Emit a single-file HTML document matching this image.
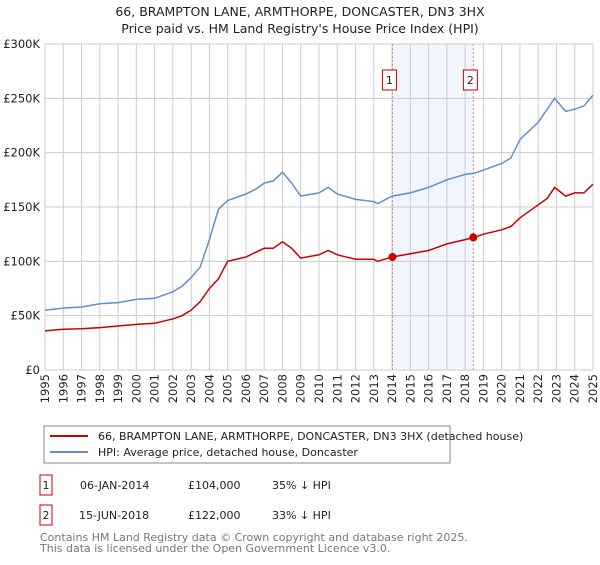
<!DOCTYPE html>
<html><head><meta charset="utf-8"><style>
body{margin:0;background:#fff;font-family:"Liberation Sans","DejaVu Sans",sans-serif;}
svg text{font-family:"DejaVu Sans","Liberation Sans",sans-serif;}
</style></head><body>
<svg width="600" height="560" xmlns="http://www.w3.org/2000/svg" id="chart">
<text x="300" y="16" text-anchor="middle" font-size="12.5" fill="#222">66, BRAMPTON LANE, ARMTHORPE, DONCASTER, DN3 3HX</text>
<text x="300" y="33" text-anchor="middle" font-size="12.5" fill="#222">Price paid vs. HM Land Registry's House Price Index (HPI)</text>
<g id="grid"></g><g id="marks"></g><g id="axes"></g>
<g>
<rect x="44" y="426" width="406" height="37" fill="#fff" stroke="#888"/>
<line x1="50" y1="436" x2="88" y2="436" stroke="#cc0000" stroke-width="2"/>
<text x="98" y="440" font-size="11" fill="#222">66, BRAMPTON LANE, ARMTHORPE, DONCASTER, DN3 3HX (detached house)</text>
<line x1="50" y1="452" x2="88" y2="452" stroke="#6090d0" stroke-width="2"/>
<text x="98" y="456" font-size="11" fill="#222">HPI: Average price, detached house, Doncaster</text>
</g>
<g font-size="11" fill="#222">
<rect x="40" y="475" width="12" height="20" fill="#fff" stroke="#cc0000"/>
<text x="46" y="489" text-anchor="middle">1</text>
<text x="80" y="489">06-JAN-2014</text>
<text x="188" y="489">£104,000</text>
<text x="272" y="489">35% ↓ HPI</text>
<rect x="40" y="505" width="12" height="20" fill="#fff" stroke="#cc0000"/>
<text x="46" y="519" text-anchor="middle">2</text>
<text x="79" y="519">15-JUN-2018</text>
<text x="188" y="519">£122,000</text>
<text x="272" y="519">33% ↓ HPI</text>
</g>
<text x="40" y="541" font-size="11" fill="#777">Contains HM Land Registry data © Crown copyright and database right 2025.</text>
<text x="40" y="552" font-size="11" fill="#777">This data is licensed under the Open Government Licence v3.0.</text>
</svg>
<script>
const hpiYears=[1995,1996,1997,1998,1999,2000,2001,2002,2002.5,2003,2003.5,2004,2004.5,2005,2006,2006.5,2007,2007.5,2008,2008.5,2009,2010,2010.5,2011,2012,2013,2013.2,2014,2015,2016,2017,2018,2018.5,2019,2020,2020.5,2021,2022,2022.5,2022.9,2023.5,2024,2024.5,2025];
const hpiValues=[55,57,58,61,62,65,66,72,77,85,95,120,148,156,162,166,172,174,182,172,160,163,168,162,157,155,153,160,163,168,175,180,181,184,190,195,212,228,240,250,238,240,243,253];
const propYears=[1995,1996,1997,1998,1999,2000,2001,2002,2002.5,2003,2003.5,2004,2004.5,2005,2006,2006.5,2007,2007.5,2008,2008.5,2009,2010,2010.5,2011,2012,2013,2013.2,2014,2015,2016,2017,2018,2018.5,2019,2020,2020.5,2021,2022,2022.5,2022.9,2023.5,2024,2024.5,2025];
const propValues=[36,37.5,38,39,40.5,42,43,47,50,55,63,75,84,100,104,108,112,112,118,112,103,106,110,106,102,102,100,104,107,110,116,120,122,125,129,132,140,152,158,168,160,163,163,171];
const saleYears=[2014.02,2018.45];
const saleValues=[104,122];
const saleLabels=["1","2"];
const yTicks=[0,50,100,150,200,250,300];
const yTickLabels=["£0","£50K","£100K","£150K","£200K","£250K","£300K"];
const xTicks=[1995,1996,1997,1998,1999,2000,2001,2002,2003,2004,2005,2006,2007,2008,2009,2010,2011,2012,2013,2014,2015,2016,2017,2018,2019,2020,2021,2022,2023,2024,2025];

const L=45,R=593,T=44,B=370,x0=1995,x1=2025,yMax=300;
const sx=v=>L+(v-x0)/(x1-x0)*(R-L);
const sy=v=>B-v/yMax*(B-T);
const NS="http://www.w3.org/2000/svg";
function mk(tag,attrs,parent,txt){const e=document.createElementNS(NS,tag);for(const k in attrs)e.setAttribute(k,attrs[k]);if(txt!==undefined)e.textContent=txt;parent.appendChild(e);return e;}
const grid=document.getElementById('grid'),marks=document.getElementById('marks'),axes=document.getElementById('axes');
let sh=mk('rect',{x:sx(saleYears[0]),y:T,width:sx(saleYears[1])-sx(saleYears[0]),height:B-T,fill:'#eef3fc',opacity:0.8},grid);


xTicks.forEach(t=>{
 let l=mk('line',{x1:sx(t),x2:sx(t),y1:T,y2:B,stroke:'#ccc','stroke-width':1},grid);
 
 
 let tx=mk('text',{x:0,y:0,'font-size':11.5,fill:'#222','text-anchor':'end',transform:`translate(${sx(t)+4},${B+4}) rotate(-90)`},axes,String(t));
 
 
});
yTicks.forEach((t,i)=>{
 let l=mk('line',{x1:L,x2:R,y1:sy(t),y2:sy(t),stroke:'#ccc','stroke-width':1},grid);
 
 
 let tx=mk('text',{x:L-5,y:sy(t)+4,'font-size':11.5,fill:'#222','text-anchor':'end'},axes,yTickLabels[i]);
 
 
});
saleYears.forEach((y,i)=>{
 let l=mk('line',{x1:sx(y),x2:sx(y),y1:T,y2:B,stroke:'#e88080','stroke-width':1,'stroke-dasharray':'2,2'},grid);
 
 
 let r=mk('rect',{x:sx(y)-10,y:70,width:14,height:20,fill:'#fff',stroke:'#cc0000'},marks);
 
 
 let tx=mk('text',{x:sx(y)-3,y:84,'font-size':11,fill:'#222','text-anchor':'middle'},marks,saleLabels[i]);
 
 
});
function path(xs,vs){return xs.map((x,i)=>(i?'L':'M')+sx(x).toFixed(1)+','+sy(vs[i]).toFixed(1)).join('');}
let hp=mk('path',{d:path(hpiYears,hpiValues),fill:'none',stroke:'#6090d0','stroke-width':1.5},marks);


let pp=mk('path',{d:path(propYears,propValues),fill:'none',stroke:'#cc0000','stroke-width':1.5},marks);


saleYears.forEach((y,i)=>{
 let c=mk('circle',{cx:sx(y),cy:sy(saleValues[i]),r:4,fill:'#cc0000'},marks);
 
 
});
</script>
</body></html>
